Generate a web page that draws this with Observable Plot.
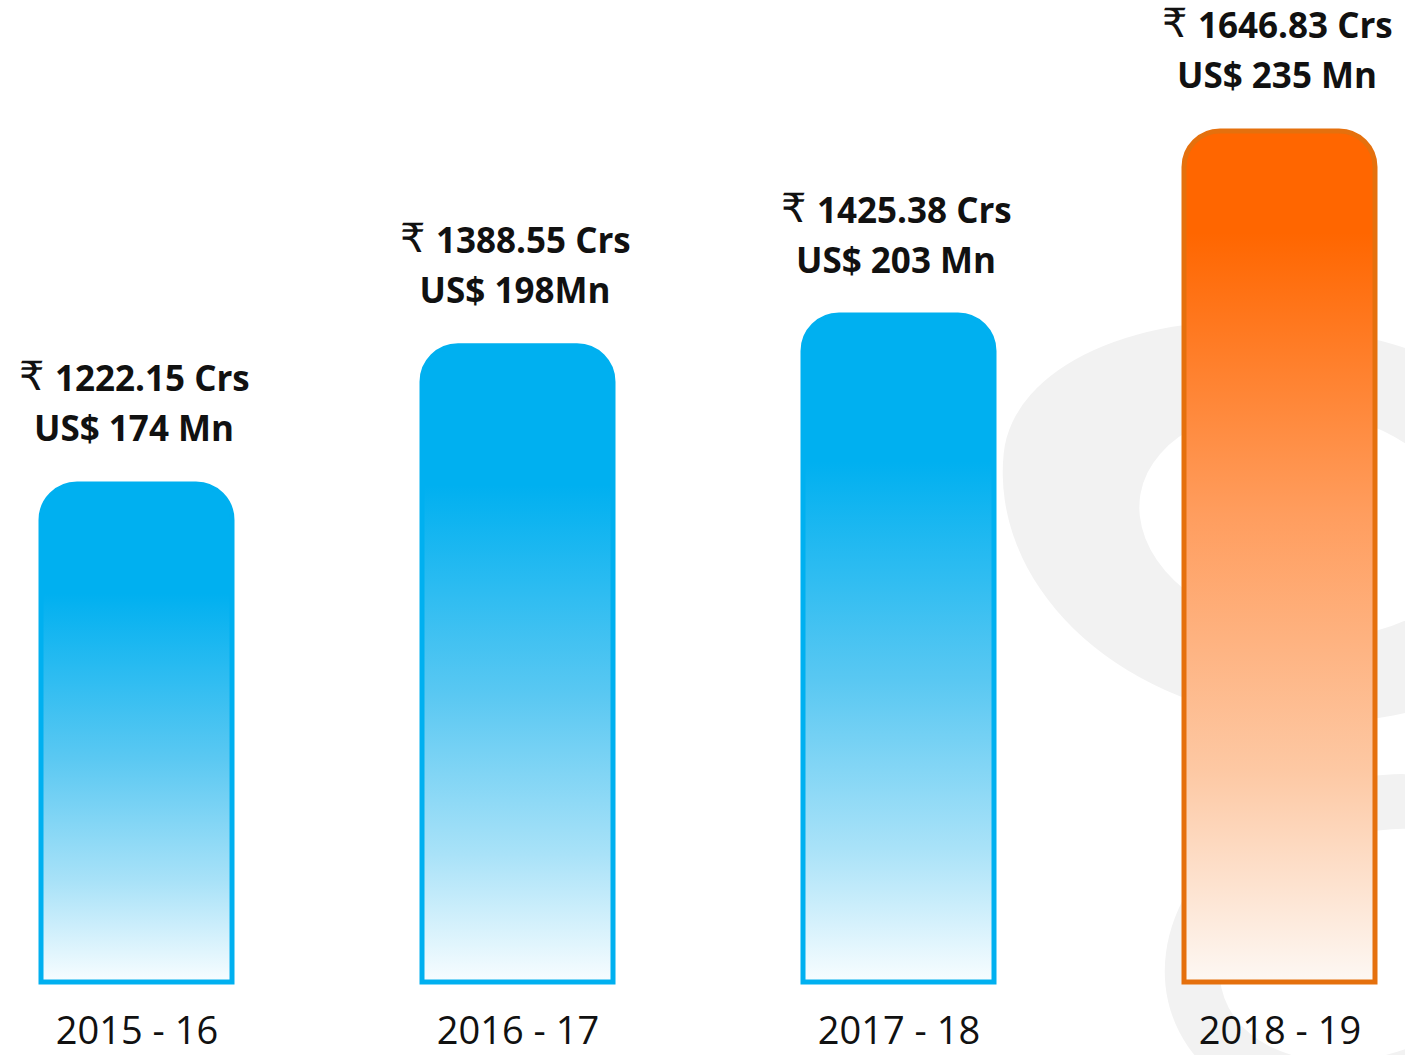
<!DOCTYPE html>
<html>
<head>
<meta charset="utf-8">
<script src="https://cdn.jsdelivr.net/npm/d3@7"></script>
<script src="https://cdn.jsdelivr.net/npm/@observablehq/plot@0.6"></script>
<style>
  body { margin: 0; background: #fff; }
  #wrap { position: relative; width: 1405px; height: 1055px; overflow: hidden; background: #fff; }
  .blob { position: absolute; border-radius: 50%; }
  .b1 { left: 998px; top: 326px; width: 600px; height: 395px; background: #f2f2f2; transform: rotate(6deg); border-radius: 45% 55% 50% 50% / 40% 45% 55% 60%; }
  .b2 { left: 1138px; top: 410px; width: 330px; height: 225px; background: #fff; transform: rotate(10deg); }
  .b3 { left: 1160px; top: 780px; width: 420px; height: 330px; border: 55px solid #f2f2f2; box-sizing: border-box; transform: rotate(-20deg); }
  #chart { position: absolute; left: 0; top: 0; }
</style>
</head>
<body>
<div id="wrap">
  <div class="blob b1"></div>
  <div class="blob b2"></div>
  <div class="blob b3"></div>
  <div id="chart"></div>
</div>
<script>
const years = ["2015 - 16", "2016 - 17", "2017 - 18", "2018 - 19"];
const inrCrore = [1222.15, 1388.55, 1425.38, 1646.83];
const usdMn = [174, 198, 203, 235];
const inrLabels = ["1222.15 Crs", "1388.55 Crs", "1425.38 Crs", "1646.83 Crs"];
const usdLabels = ["US$ 174 Mn", "US$ 198Mn", "US$ 203 Mn", "US$ 235 Mn"];
const latestYear = [false, false, false, true];

const data = years.map((year, i) => ({
  year, inr: inrCrore[i], usd: usdMn[i],
  inrLabel: inrLabels[i], usdLabel: usdLabels[i], latest: latestYear[i]
}));

const bold = { fontSize: 35, fontWeight: 700, fill: "#111", lineAnchor: "bottom" };

const chart = Plot.plot({
  width: 1405,
  height: 1055,
  marginTop: 0,
  marginBottom: 73,
  marginLeft: 40,
  marginRight: 29,
  style: { background: "transparent", fontFamily: "'Open Sans', 'Noto Sans', sans-serif", overflow: "visible" },
  x: { domain: years, paddingInner: 0.5, paddingOuter: 0, label: null },
  y: { domain: [623, 1804.4], clamp: true, axis: null },
  marks: [
    Plot.barY(data, { filter: d => !d.latest, x: "year", y: "inr", fill: "url(#gradBlue)", stroke: "#00b0f0", strokeWidth: 5, inset: 0 }),
    Plot.barY(data, { filter: d => d.latest, x: "year", y: "inr", fill: "url(#gradOrange)", stroke: "#e5700d", strokeWidth: 5, inset: 0 }),
    Plot.text(data, { x: "year", y: "inr", text: () => "₹", dx: -118, dy: -94, textAnchor: "start", fontSize: 40, fontWeight: 400, fill: "#111", lineAnchor: "bottom", fontFamily: "'DejaVu Sans', 'Noto Sans', sans-serif" }),
    Plot.text(data, { x: "year", y: "inr", text: "inrLabel", dx: -82, dy: -93, textAnchor: "start", ...bold }),
    Plot.text(data, { x: "year", y: "inr", text: "usdLabel", dx: -3, dy: -43, textAnchor: "middle", ...bold }),
    Plot.axisX({ tickSize: 0, tickPadding: 35, fontSize: 38, label: null, fill: "#111" })
  ]
});

// gradient definitions
const ns = "http://www.w3.org/2000/svg";
const defs = document.createElementNS(ns, "defs");
function grad(id, stops) {
  const g = document.createElementNS(ns, "linearGradient");
  g.setAttribute("id", id);
  g.setAttribute("x1", "0"); g.setAttribute("y1", "0");
  g.setAttribute("x2", "0"); g.setAttribute("y2", "1");
  for (const [o, c] of stops) {
    const s = document.createElementNS(ns, "stop");
    s.setAttribute("offset", o); s.setAttribute("stop-color", c);
    g.appendChild(s);
  }
  defs.appendChild(g);
}
grad("gradBlue", [[0, "#00b0f0"], [0.22, "#00b0f0"], [0.55, "#5ac8f2"], [0.8, "#a9e2f8"], [1, "#f8fdff"]]);
grad("gradOrange", [[0, "#ff6600"], [0.12, "#ff6600"], [0.45, "#ff9d5e"], [0.75, "#fdc8a3"], [1, "#fdf8f4"]]);
chart.insertBefore(defs, chart.firstChild);

// round the top corners of each bar
const r = 36;
chart.querySelectorAll('g[aria-label="bar"] rect').forEach(rect => {
  const x = +rect.getAttribute("x"), y = +rect.getAttribute("y");
  const w = +rect.getAttribute("width"), h = +rect.getAttribute("height");
  const p = document.createElementNS(ns, "path");
  p.setAttribute("d", `M${x},${y + h}V${y + r}A${r},${r} 0 0 1 ${x + r},${y}H${x + w - r}A${r},${r} 0 0 1 ${x + w},${y + r}V${y + h}Z`);
  for (const a of rect.getAttributeNames()) if (!["x", "y", "width", "height"].includes(a)) p.setAttribute(a, rect.getAttribute(a));
  rect.replaceWith(p);
});

document.getElementById("chart").appendChild(chart);
</script>
</body>
</html>
